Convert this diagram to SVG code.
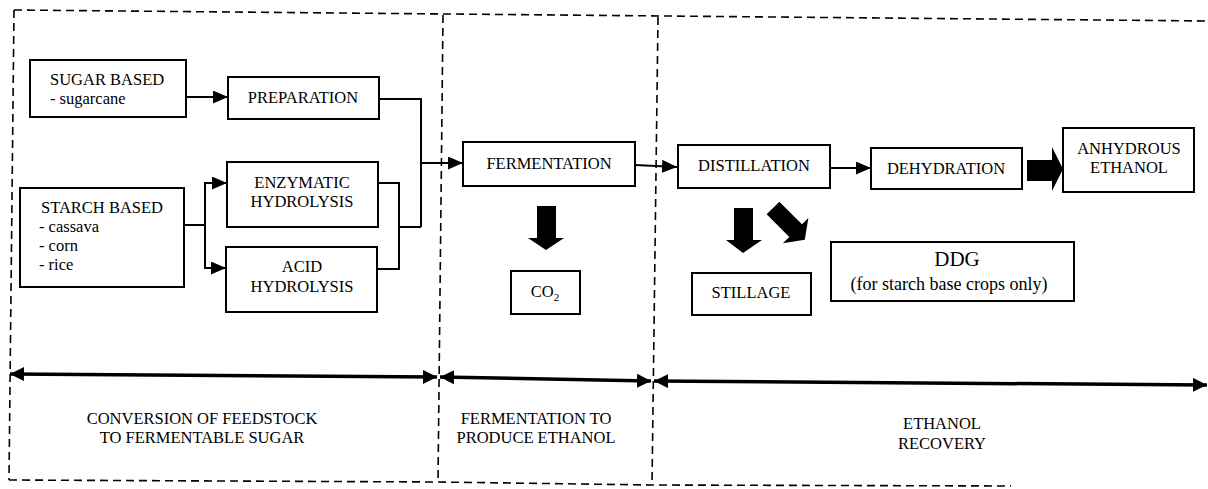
<svg xmlns="http://www.w3.org/2000/svg" width="1208" height="489" viewBox="0 0 1208 489">
<style>
text{font-family:"Liberation Serif","Times New Roman",serif;fill:#000;}
.t{font-size:16.5px;}
.c{text-anchor:middle;}
.box{fill:#fff;stroke:#000;stroke-width:2;}
.ln{fill:none;stroke:#000;stroke-width:2;}
.dash{fill:none;stroke:#000;stroke-width:1.6;stroke-dasharray:8 5;}
.dbl{fill:none;stroke:#000;stroke-width:3.5;}
.big{fill:#000;}
</style>
<defs>
<marker id="ah" viewBox="0 0 15 13" refX="15" refY="6.5" markerWidth="15" markerHeight="13" markerUnits="userSpaceOnUse" orient="auto">
<path d="M0,0 L15,6.5 L0,13 z" fill="#000"/>
</marker>
<marker id="dh" viewBox="0 0 14 14" refX="14" refY="7" markerWidth="14" markerHeight="14" markerUnits="userSpaceOnUse" orient="auto-start-reverse">
<path d="M0,0 L14,7 L0,14 z" fill="#000"/>
</marker>
</defs>
<rect width="1208" height="489" fill="#fff"/>

<g id="frames">
<path class="dash" d="M14,10 L1208,21"/>
<path class="dash" d="M14,10 L9,480"/>
<path class="dash" d="M9,480 L438,482 L652,485 L1011,486"/>
<path class="dash" d="M443,15 L438,482"/>
<path class="dash" d="M658,17 L652,485"/>
</g>

<g id="connectors">
<path class="ln" d="M186,97 H228" marker-end="url(#ah)"/>
<path class="ln" d="M184,225 H205"/>
<path class="ln" d="M205,225 V183 H227" marker-end="url(#ah)"/>
<path class="ln" d="M205,225 V268 H226" marker-end="url(#ah)"/>
<path class="ln" d="M378,183 H399 V269 H377"/>
<path class="ln" d="M399,227 H421"/>
<path class="ln" d="M379,99 H421 V227"/>
<path class="ln" d="M421,163 H463" marker-end="url(#ah)"/>
<path class="ln" d="M635,165 L677,167" marker-end="url(#ah)"/>
<path class="ln" d="M830,168 H871" marker-end="url(#ah)"/>
<polygon class="big" points="537,206 556,206 556,238 564,238 546,250 528,238 537,238"/>
<polygon class="big" points="734,208 753,208 753,240 762,240 743,253 726,240 734,240"/>
<polygon class="big" transform="translate(773,208) rotate(-45)" points="-9,0 9,0 9,32 18,32 0,45 -18,32 -9,32"/>
<polygon class="big" points="1027,160 1052,160 1052,147 1063,169 1052,191 1052,181 1027,181"/>
<path class="dbl" d="M10,374 L437,377" marker-start="url(#dh)" marker-end="url(#dh)"/>
<path class="dbl" d="M440,377 L651,381" marker-start="url(#dh)" marker-end="url(#dh)"/>
<path class="dbl" d="M654,381 L1207,385" marker-start="url(#dh)" marker-end="url(#dh)"/>
</g>

<g id="sugar">
<rect class="box" x="30" y="60" width="156" height="57"/>
<text class="t" x="50" y="85">SUGAR BASED</text>
<text class="t" x="50" y="104">- sugarcane</text>
</g>
<g id="starch">
<rect class="box" x="20" y="188" width="164" height="99"/>
<text class="t" x="41" y="213">STARCH BASED</text>
<text class="t" x="39" y="232">- cassava</text>
<text class="t" x="39" y="251">- corn</text>
<text class="t" x="39" y="270">- rice</text>
</g>
<g id="preparation">
<rect class="box" x="228" y="77" width="151" height="42"/>
<text class="t c" x="303" y="103">PREPARATION</text>
</g>
<g id="enzymatic">
<rect class="box" x="227" y="162" width="151" height="65"/>
<text class="t c" x="302" y="188">ENZYMATIC</text>
<text class="t c" x="302" y="207">HYDROLYSIS</text>
</g>
<g id="acid">
<rect class="box" x="226" y="247" width="151" height="65"/>
<text class="t c" x="302" y="272">ACID</text>
<text class="t c" x="302" y="292">HYDROLYSIS</text>
</g>
<g id="fermentation">
<rect class="box" x="463" y="142" width="172" height="44"/>
<text class="t c" x="549" y="169">FERMENTATION</text>
</g>
<g id="co2">
<rect class="box" x="511" y="271" width="69" height="43"/>
<text class="t c" x="545" y="297">CO<tspan font-size="11" dy="4">2</tspan></text>
</g>
<g id="distillation">
<rect class="box" x="678" y="145" width="152" height="43"/>
<text class="t c" x="754" y="171">DISTILLATION</text>
</g>
<g id="dehydration">
<rect class="box" x="871" y="148" width="151" height="41"/>
<text class="t c" x="946" y="174">DEHYDRATION</text>
</g>
<g id="anhydrous">
<rect class="box" x="1063" y="128" width="131" height="64"/>
<text class="t c" x="1129" y="154">ANHYDROUS</text>
<text class="t c" x="1129" y="173">ETHANOL</text>
</g>
<g id="stillage">
<rect class="box" x="692" y="273" width="119" height="42"/>
<text class="t c" x="751" y="298">STILLAGE</text>
</g>
<g id="ddg">
<rect class="box" x="831" y="242" width="243" height="59"/>
<text class="c" x="957" y="266" font-size="21">DDG</text>
<text class="c" x="949" y="290" font-size="18">(for starch base crops only)</text>
</g>

<g id="labels">
<text class="t c" x="202" y="424">CONVERSION OF FEEDSTOCK</text>
<text class="t c" x="202" y="443">TO FERMENTABLE SUGAR</text>
<text class="t c" x="536" y="424">FERMENTATION TO</text>
<text class="t c" x="536" y="443">PRODUCE ETHANOL</text>
<text class="t c" x="942" y="429">ETHANOL</text>
<text class="t c" x="942" y="449">RECOVERY</text>
</g>
</svg>
